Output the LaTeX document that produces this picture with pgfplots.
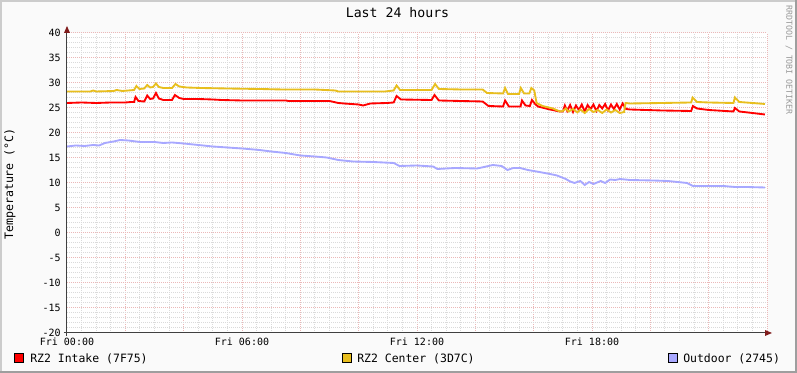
\documentclass[border=0pt]{standalone}
\usepackage{fontspec}
\setmainfont{DejaVu Sans Mono}
\usepackage{pgfplots}
\pgfplotsset{compat=1.18}
\definecolor{cint}{HTML}{FF0000}
\definecolor{ccen}{HTML}{E8BE1E}
\definecolor{cout}{HTML}{A8A8FF}
\definecolor{majgrid}{HTML}{EBB8B8}
\definecolor{mingrid}{HTML}{DADADA}
\definecolor{arrred}{HTML}{801C1C}
\begin{document}
\begin{tikzpicture}[x=0.75pt,y=0.75pt]
\fill[white!98!black] (-67,-40) rectangle (730,333);
\fill[black!20] (-67,331) rectangle (730,333);
\fill[black!20] (-67,-40) rectangle (-65,333);
\fill[black!38] (728,-40) rectangle (730,333);
\fill[black!38] (-67,-40) rectangle (730,-38);
\begin{axis}[at={(0,0)}, anchor=south west, scale only axis,
  width=525pt, height=225pt,
  xmin=0, xmax=24, ymin=-20, ymax=40,
  axis line style={draw=none},
  axis background/.style={fill=white},
  xtick={0,2,...,24},
  xticklabels={Fri 00:00,,,Fri 06:00,,,Fri 12:00,,,Fri 18:00,,,},
  minor x tick num=3,
  ytick={-20,-15,...,40},
  minor y tick num=4,
  grid=both,
  major grid style={majgrid, line width=0.75pt, dash pattern=on 0.75pt off 0.75pt},
  minor grid style={mingrid, line width=0.75pt, dash pattern=on 0.75pt off 0.75pt},
  major tick length=0pt, minor tick length=0pt,
  tick label style={font=\fontsize{7.5}{9}\selectfont},
  /pgf/number format/assume math mode=true,
  yticklabel style={inner sep=0pt, xshift=-4.5pt},
  xticklabel style={inner sep=0pt, yshift=-3.5pt},
  clip=false,
]
\addplot[cint, line width=1.4pt] coordinates {
(0,26.0) (0.5,26.1) (1.0,26.0) (1.5,26.1) (2.0,26.1) (2.2,26.2) (2.3,26.2) (2.35,27.2) (2.45,26.4) (2.65,26.3) (2.75,27.5) (2.85,26.8) (2.95,26.9) (3.05,28.0) (3.15,26.9) (3.3,26.6) (3.6,26.6) (3.7,27.6) (3.85,27.0) (4.0,26.8) (4.5,26.8) (5.0,26.7) (5.3,26.6) (6.0,26.5) (7.5,26.5) (7.6,26.4) (9.0,26.4) (9.3,26.0) (9.5,25.9) (10.0,25.7) (10.15,25.5) (10.4,25.9) (10.97,26.0) (11.2,26.1) (11.3,27.4) (11.45,26.7) (12.5,26.6) (12.6,27.6) (12.75,26.5) (14.25,26.3) (14.45,25.4) (14.95,25.3) (15.02,26.5) (15.15,25.3) (15.55,25.3) (15.6,26.5) (15.72,25.5) (15.87,25.4) (15.94,26.6) (16.05,25.8) (16.15,25.3) (16.56,24.7) (16.9,24.3)
(17.0,24.3) (17.07,25.5) (17.15,24.4) (17.25,25.6) (17.35,24.2) (17.45,25.5) (17.55,24.6) (17.65,25.7) (17.75,24.3) (17.85,25.6) (17.95,24.8) (18.05,25.7) (18.15,24.4) (18.25,25.6) (18.35,24.9) (18.45,25.8) (18.55,24.5) (18.65,25.7) (18.75,24.8) (18.85,25.8) (18.95,24.7) (19.05,25.9) (19.17,24.8) (19.3,24.7)
(20.4,24.5) (21.4,24.4) (21.46,25.4) (21.6,24.9) (22.0,24.6) (22.85,24.3) (22.9,25.0) (23.05,24.3) (23.5,24.0) (23.93,23.7)
};
\addplot[ccen, line width=1.4pt] coordinates {
(0,28.3) (0.8,28.3) (0.9,28.5) (1.0,28.3) (1.6,28.4) (1.7,28.6) (1.9,28.4) (2.1,28.5) (2.3,28.6) (2.38,29.4) (2.48,28.8) (2.65,28.9) (2.75,29.6) (2.85,29.1) (2.95,29.2) (3.05,29.9) (3.15,29.2) (3.3,29.0) (3.6,29.0) (3.72,29.8) (3.85,29.3) (4.1,29.1) (4.6,29.0) (5.5,28.9) (6.6,28.8) (7.4,28.7) (8.5,28.7) (9.2,28.5) (9.3,28.3) (10.9,28.3) (11.2,28.5) (11.3,29.5) (11.42,28.6) (12.5,28.6) (12.62,29.8) (12.75,28.8) (13.5,28.7) (14.25,28.7) (14.4,28.0) (14.95,27.9) (15.02,29.0) (15.12,27.8) (15.5,27.8) (15.56,29.0) (15.67,27.9) (15.85,27.9) (15.92,29.0) (16.02,28.5) (16.1,26.0) (16.3,25.4) (16.66,24.9) (16.9,24.3)
(17.0,24.4) (17.1,24.9) (17.2,24.3) (17.35,24.8) (17.5,24.1) (17.6,24.7) (17.75,24.0) (17.9,24.8) (18.05,24.2) (18.2,24.6) (18.35,24.0) (18.5,24.7) (18.65,24.1) (18.8,24.6) (18.95,24.0) (19.1,24.2) (19.15,26.0) (19.3,25.9)
(20.4,26.0) (21.4,26.1) (21.45,27.1) (21.6,26.2) (22.0,26.1) (22.85,26.0) (22.9,27.1) (23.05,26.2) (23.5,26.0) (23.93,25.8)
};
\addplot[cout, line width=1.4pt] coordinates {
(0,17.3) (0.3,17.5) (0.6,17.4) (0.9,17.6) (1.1,17.5) (1.3,18.0) (1.6,18.3) (1.82,18.6) (2.1,18.5) (2.5,18.2) (3.0,18.2) (3.3,18.0) (3.6,18.1) (4.0,17.9) (4.5,17.6) (5.0,17.3) (5.5,17.1) (6.0,16.9) (6.6,16.6) (7.0,16.3) (7.5,16.0) (8.0,15.5) (8.5,15.3) (8.9,15.1) (9.3,14.6) (9.8,14.3) (10.5,14.2) (11.2,14.0) (11.4,13.4) (12.0,13.5) (12.55,13.3) (12.7,12.8) (13.3,13.0) (14.06,12.9) (14.3,13.2) (14.6,13.6) (14.9,13.4) (15.1,12.6) (15.3,13.0) (15.53,13.0) (15.8,12.6) (16.1,12.3) (16.56,11.8) (16.8,11.5) (17.1,10.8) (17.25,10.3) (17.4,10.0) (17.6,10.4) (17.75,9.6) (17.9,10.2) (18.05,9.8) (18.3,10.4) (18.45,10.0) (18.62,10.7) (18.8,10.6) (18.96,10.8) (19.3,10.6) (20.1,10.5) (20.6,10.4) (21.26,10.0) (21.46,9.4) (22.0,9.4) (22.5,9.4) (22.9,9.2) (23.3,9.2) (23.93,9.1)
};
\end{axis}
\draw[black!75, line width=0.75pt] (-3,0) -- (700,0);
\fill[arrred] (698,-3) -- (705,0) -- (698,3) -- cycle;
\draw[black!75, line width=0.75pt] (0,-3) -- (0,302);
\fill[arrred] (-3,300) -- (0,307) -- (3,300) -- cycle;
\node[font=\fontsize{9.9}{12}\selectfont] at (330.5,320) {Last 24 hours};
\node[rotate=90, font=\fontsize{8.7}{10}\selectfont] at (-57,149) {Temperature (°C)};
\node[rotate=-90, text=black!40, font=\fontsize{6.2}{7}\selectfont] at (722,273) {RRDTOOL / TOBI OETIKER};
\filldraw[fill=cint, draw=black, line width=0.75pt] (-52,-30) rectangle (-43,-21);
\node[anchor=west, inner sep=0pt, font=\fontsize{8.6}{10}\selectfont] at (-37,-26) {RZ2 Intake (7F75)};
\filldraw[fill=ccen, draw=black, line width=0.75pt] (275,-30) rectangle (284,-21);
\node[anchor=west, inner sep=0pt, font=\fontsize{8.6}{10}\selectfont] at (290,-26) {RZ2 Center (3D7C)};
\filldraw[fill=cout, draw=black, line width=0.75pt] (601,-30) rectangle (610,-21);
\node[anchor=west, inner sep=0pt, font=\fontsize{8.6}{10}\selectfont] at (616,-26) {Outdoor (2745)};
\pgfresetboundingbox
\path[use as bounding box] (-67,-40) rectangle (730,333);
\end{tikzpicture}
\end{document}
